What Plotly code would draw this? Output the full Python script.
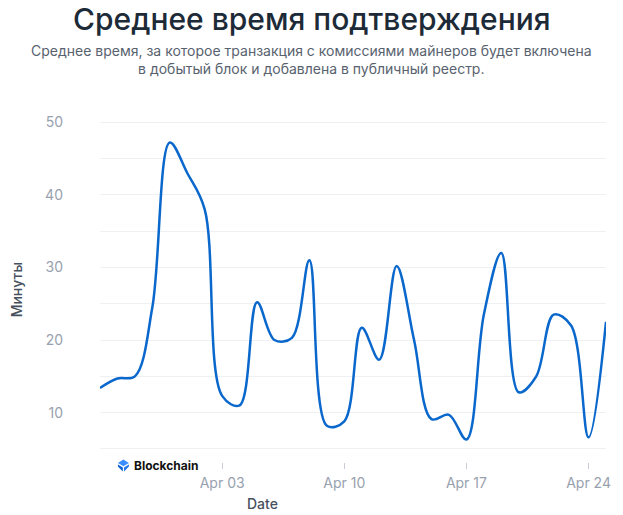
import plotly.graph_objects as go
import pandas as pd

dates = pd.date_range("2024-03-27", "2024-04-25", freq="D")
minutes = [13.4, 14.7, 15.0, 24.5, 47.2, 43.0, 38.0, 12.3, 11.0, 25.2,
           20.0, 20.3, 31.0, 8.2, 8.8, 21.7, 17.3, 30.2, 20.0, 9.1,
           9.7, 6.3, 23.5, 32.0, 12.8, 15.0, 23.5, 22.0, 6.6, 22.5]
x_tick_dates = ["2024-04-03", "2024-04-10", "2024-04-17", "2024-04-24"]
y_tick_values = [10, 20, 30, 40, 50]

title = "Среднее время подтверждения"
subtitle = ("Среднее время, за которое транзакция с комиссиями майнеров будет включена"
            "<br>в добытый блок и добавлена в публичный реестр.")
y_title = "Минуты"
x_title = "Date"

W, H = 623, 515
L, R, T, B = 100, 15, 120, 53
PW, PH = W - L - R, H - T - B

def px_x(x):
    return (x - L) / PW

def px_y(y):
    return (H - B - y) / PH

FONT = "Inter"

fig = go.Figure()
fig.add_trace(go.Scatter(
    x=dates, y=minutes, mode="lines",
    line=dict(color="#0a67cc", width=2.5, shape="spline", smoothing=1.0),
    hoverinfo="x+y", showlegend=False,
))

fig.update_layout(
    width=W, height=H,
    margin=dict(l=L, r=R, t=T, b=B),
    paper_bgcolor="white", plot_bgcolor="white",
    font=dict(family=FONT, color="#98a1ae", size=14),
    xaxis=dict(
        range=[dates[0], dates[-1]],
        showgrid=False, zeroline=False, showline=False,
        tickmode="array", tickvals=x_tick_dates,
        tickformat="%b %d",
        ticks="outside", ticklen=6, tickwidth=1, tickcolor="#c9ced6",
        ticklabelstandoff=2,
        tickfont=dict(size=14, color="#98a1ae"),
    ),
    yaxis=dict(
        range=[3.2, 50.3],
        tickmode="array", tickvals=y_tick_values,
        showgrid=True, gridcolor="#eef0f3", gridwidth=1,
        zeroline=False, showline=False,
        ticks="", ticklabelstandoff=36,
        tickfont=dict(size=14, color="#98a1ae"),
        minor=dict(dtick=5, tick0=0, showgrid=True, gridcolor="#eef0f3", gridwidth=1),
    ),
)

annotations = [
    dict(text=title, x=px_x(313), y=px_y(19), xref="paper", yref="paper",
         xanchor="center", yanchor="middle", showarrow=False,
         font=dict(family=FONT, size=30, color="#1d2a37", weight=500)),
    dict(text=subtitle, x=px_x(312), y=px_y(59), xref="paper", yref="paper",
         xanchor="center", yanchor="middle", showarrow=False, align="center",
         font=dict(family=FONT, size=14, color="#58626e")),
    dict(text=y_title, x=px_x(16), y=px_y(290), xref="paper", yref="paper",
         xanchor="center", yanchor="middle", textangle=-90, showarrow=False,
         font=dict(family=FONT, size=14, color="#47515e", weight=500)),
    dict(text=x_title, x=px_x(263), y=px_y(503), xref="paper", yref="paper",
         xanchor="center", yanchor="middle", showarrow=False,
         font=dict(family=FONT, size=14, color="#47515e", weight=500)),
    dict(text="<b>Blockchain</b>", x=px_x(132), y=px_y(465), xref="paper", yref="paper",
         xanchor="left", yanchor="middle", showarrow=False,
         font=dict(family=FONT, size=12, color="#111111")),
]
fig.update_layout(annotations=annotations)

ax, ay = px_x(123.5), px_y(465)
common = dict(xref="paper", yref="paper", xsizemode="pixel", ysizemode="pixel",
              xanchor=ax, yanchor=ay, line=dict(width=0), layer="above")
fig.add_shape(type="path", path="M -5.5,2 L 0,5.5 L 5.5,2 L 0,-1.2 Z",
              fillcolor="#3c8dff", **common)
fig.add_shape(type="path", path="M -5.5,0.6 L -0.6,-2.4 L -0.6,-6.5 L -5.5,-1.5 Z",
              fillcolor="#0c5fd0", **common)
fig.add_shape(type="path", path="M 5.5,0.6 L 0.6,-2.4 L 0.6,-6.5 L 5.5,-1.5 Z",
              fillcolor="#1f75e8", **common)

fig.write_html("out.html")
